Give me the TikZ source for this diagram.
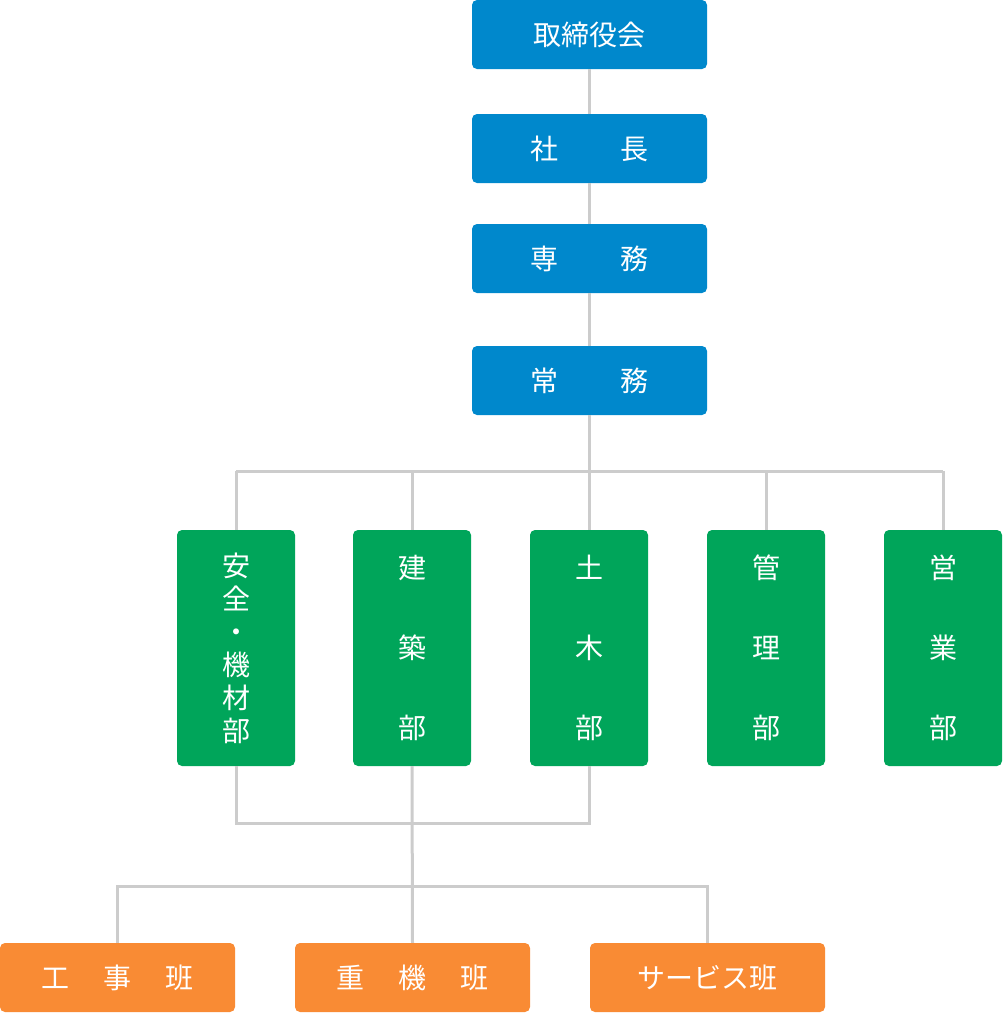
\documentclass[tikz,border=0pt]{standalone}
\usepackage{fontspec}
\newfontfamily\cjk{Noto Sans CJK JP}
\definecolor{exec}{HTML}{0088CC}
\definecolor{dept}{HTML}{00A55A}
\definecolor{team}{HTML}{F98B34}
\definecolor{wire}{HTML}{CCCCCC}
\begin{document}
\begin{tikzpicture}[x=1pt,y=-1pt,
  box/.style={rounded corners=5pt,text=white,font=\cjk\fontsize{28}{30}\selectfont,inner sep=0pt},
  exec node/.style={box,fill=exec,minimum width=235pt,minimum height=69pt},
  dept node/.style={box,fill=dept,minimum width=118pt,minimum height=236pt,align=center},
  team node/.style={box,fill=team,minimum width=235pt,minimum height=69pt},
  link/.style={draw=wire,line width=3pt}]
\useasboundingbox (0,0) rectangle (1003,1013);

% exec row
\node[exec node] (board) at (589.5,34.5) {取締役会};
\node[exec node] (pres) at (589.5,148.5) {社\hspace{2.2em}長};
\node[exec node] (senior) at (589.5,258.5) {専\hspace{2.2em}務};
\node[exec node] (mdir) at (589.5,380.5) {常\hspace{2.2em}務};

% departments
\node[dept node,font=\cjk\fontsize{28}{33}\selectfont] (safety) at (236,648) {安\\全\\・\\機\\材\\部};
\node[dept node,font=\cjk\fontsize{28}{80}\selectfont] (arch) at (412,648) {建\\築\\部};
\node[dept node,font=\cjk\fontsize{28}{80}\selectfont] (civil) at (589,648) {土\\木\\部};
\node[dept node,font=\cjk\fontsize{28}{80}\selectfont] (admin) at (766,648) {管\\理\\部};
\node[dept node,font=\cjk\fontsize{28}{80}\selectfont] (sales) at (943,648) {営\\業\\部};

% teams
\node[team node] (works) at (117.5,977.5) {工\hspace{1.2em}事\hspace{1.2em}班};
\node[team node] (heavy) at (412.5,977.5) {重\hspace{1.2em}機\hspace{1.2em}班};
\node[team node] (service) at (707.5,977.5) {サービス班};

\coordinate (split) at (589.5,471);
\coordinate (merge) at (412,823);
\coordinate (fork) at (412,886);

\begin{scope}[on background layer/.style={}]
\path[link] (board) -- (pres) (pres) -- (senior) (senior) -- (mdir) (mdir) -- (split);
\path[link] (safety.north |- split) -- (sales.north |- split);
\foreach \d in {safety,arch,civil,admin,sales}
  \path[link] (\d.north |- split) -- (\d.north);
\path[link] (safety.south) -- (safety.south |- merge) -- (civil.south |- merge) -- (civil.south);
\path[link] (arch.south) -- (heavy.north);
\path[link] (works.north) -- (works.north |- fork) -- (service.north |- fork) -- (service.north);
\end{scope}
\end{tikzpicture}
\end{document}
